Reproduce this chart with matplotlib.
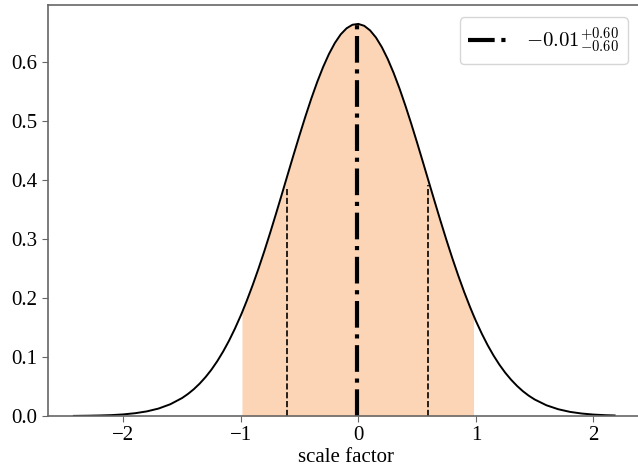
import numpy as np
import matplotlib
matplotlib.use("Agg")
import matplotlib.pyplot as plt

plt.rcParams['font.family'] = ['Liberation Serif', 'DejaVu Serif']
plt.rcParams['mathtext.fontset'] = 'cm'

# curve
curve_x = [-2.42, -2.3, -2.2, -2.1, -2.0, -1.9, -1.8, -1.7, -1.6, -1.5, -1.45, -1.4,
           -1.35, -1.3, -1.25, -1.2, -1.15, -1.1, -1.05, -1.0, -0.99, -0.95, -0.9,
           -0.85, -0.8, -0.75, -0.7, -0.65, -0.6, -0.55, -0.5, -0.45, -0.4, -0.35,
           -0.3, -0.25, -0.2, -0.15, -0.1, -0.05, 0.0, 0.05, 0.1, 0.15, 0.2, 0.25,
           0.3, 0.35, 0.4, 0.45, 0.5, 0.55, 0.6, 0.65, 0.7, 0.75, 0.8, 0.85, 0.9,
           0.95, 0.98, 1.0, 1.05, 1.1, 1.15, 1.2, 1.25, 1.3, 1.35, 1.4, 1.45, 1.5,
           1.6, 1.7, 1.8, 1.9, 2.0, 2.1, 2.18]
curve_y = [0.0002, 0.0005, 0.0009, 0.0015, 0.0027, 0.0047, 0.0078, 0.0126, 0.0199,
           0.0304, 0.0373, 0.0454, 0.0549, 0.0659, 0.0785, 0.0930, 0.1094, 0.1277,
           0.1481, 0.1705, 0.1752, 0.1950, 0.2214, 0.2496, 0.2794, 0.3108, 0.3433,
           0.3765, 0.4102, 0.4436, 0.4764, 0.5082, 0.5384, 0.5664, 0.5917, 0.6139,
           0.6325, 0.6472, 0.6575, 0.6635, 0.6649, 0.6617, 0.6539, 0.6418, 0.6255,
           0.6054, 0.5819, 0.5555, 0.5265, 0.4957, 0.4634, 0.4302, 0.3966, 0.3632,
           0.3302, 0.2981, 0.2673, 0.2381, 0.2105, 0.1849, 0.1705, 0.1612, 0.1397,
           0.1201, 0.1026, 0.0870, 0.0733, 0.0614, 0.0510, 0.0420, 0.0344, 0.0280,
           0.0182, 0.0115, 0.0070, 0.0042, 0.0024, 0.0014, 0.0009]

band_lo, band_hi = -0.99, 0.98
median_x, median_top = -0.01, 0.665
sigma_x = [-0.61, 0.59]
sigma_top = [0.385, 0.392]
legend_label = r'$-0.01^{+0.60}_{-0.60}$'
xlim = (-2.64, 2.43)
ylim = (0.0, 0.697)
xticks = [-2, -1, 0, 1, 2]
xticklabels = ['\u22122', '\u22121', '0', '1', '2']
yticks = [0.0, 0.1, 0.2, 0.3, 0.4, 0.5, 0.6]

fig = plt.figure(figsize=(6.38, 4.70), dpi=100)
ax = fig.add_axes([48/638, 54/470, 596/638, 411/470])

cx = np.array(curve_x)
cy = np.array(curve_y)
mask = (cx >= band_lo) & (cx <= band_hi)
ax.fill_between(cx[mask], 0, cy[mask], color='#fcd5b6', linewidth=0)
ax.plot(cx, cy, color='black', lw=1.4)
ax.vlines(sigma_x, 0, sigma_top, colors='black', linestyles='--', lw=1.2)
ax.plot([median_x, median_x], [0, median_top], color='black', ls='-.', lw=3,
        label=legend_label)

ax.set_xlim(*xlim)
ax.set_ylim(*ylim)
ax.set_xticks(xticks)
ax.set_yticks(yticks)
ax.set_xticklabels(xticklabels)
ax.set_yticklabels([f'{v:.1f}' for v in yticks])
ax.tick_params(labelsize=15, color='#666666', length=4)
for s in ax.spines.values():
    s.set_color('#666666')
    s.set_linewidth(1.2)
ax.set_xlabel('scale factor', fontsize=15, labelpad=2)
leg = ax.legend(loc='upper right', fontsize=15, handlelength=2.0,
                bbox_to_anchor=(0.99, 0.995))

fig.savefig('out.png', dpi=100)
